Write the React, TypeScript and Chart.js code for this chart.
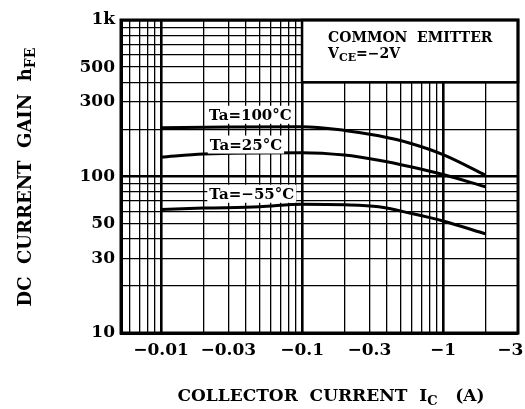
import React, { useEffect, useRef } from "react";
import { Chart, registerables } from "chart.js";
Chart.register(...registerables);

// ---- data (collector current |Ic| in A, DC current gain hFE) ----
const xTickValues = [0.01, 0.03, 0.1, 0.3, 1, 3];
const xTickLabels = ["−0.01", "−0.03", "−0.1", "−0.3", "−1", "−3"];
const yTickValues = [10, 30, 50, 100, 300, 500, 1000];
const yTickLabels = ["10", "30", "50", "100", "300", "500", "1k"];

const ic100 = [0.01, 0.03, 0.1, 0.2, 0.35, 0.6, 1, 2];
const hfe100 = [205, 207, 208, 197, 182, 162, 138, 102];
const ic25 = [0.01, 0.02, 0.1, 0.2, 0.35, 0.6, 1, 2];
const hfe25 = [133, 139, 142, 137, 127, 115, 103, 86];
const icM55 = [0.01, 0.02, 0.05, 0.1, 0.2, 0.35, 0.6, 1, 2];
const hfeM55 = [61.5, 62.8, 64, 66.5, 66, 64, 58, 52, 43];

const seriesLabels = ["Ta=100°C", "Ta=25°C", "Ta=−55°C"];
const labelAnchorIc = [0.043, 0.04, 0.044];
const labelAnchorHfe = [248, 160, 77.6];

const X_MIN = 0.0052;
const X_MAX = 3.4;
const Y_MIN = 10;
const Y_MAX = 1000;

const FAMILY = "'DejaVu Serif', 'Liberation Serif', serif";

function logGrid(min: number, max: number) {
  const out: number[] = [];
  for (let e = -4; e <= 4; e++) {
    for (let m = 1; m <= 9; m++) {
      const v = +(m * Math.pow(10, e)).toPrecision(3);
      if (v >= min * 0.999 && v <= max * 1.001) out.push(v);
    }
  }
  return out;
}

const isDecade = (v: number) =>
  Math.abs(Math.log10(v) - Math.round(Math.log10(v))) < 1e-6;

type Part = { t: string; sub?: boolean };

function richWidth(ctx: CanvasRenderingContext2D, parts: Part[], size: number) {
  let w = 0;
  for (const p of parts) {
    ctx.font = `bold ${p.sub ? Math.round(size * 0.78) : size}px ${FAMILY}`;
    w += ctx.measureText(p.t).width;
  }
  return w;
}

function drawRich(
  ctx: CanvasRenderingContext2D,
  parts: Part[],
  x: number,
  yMid: number,
  size: number,
  align: "left" | "center"
) {
  const total = richWidth(ctx, parts, size);
  let cx = align === "center" ? x - total / 2 : x;
  const base = yMid + size * 0.36;
  ctx.textAlign = "left";
  ctx.textBaseline = "alphabetic";
  for (const p of parts) {
    const s = p.sub ? Math.round(size * 0.78) : size;
    ctx.font = `bold ${s}px ${FAMILY}`;
    ctx.fillText(p.t, cx, p.sub ? base + size * 0.22 : base);
    cx += ctx.measureText(p.t).width;
  }
}

const decor = {
  id: "decor",
  afterDraw(chart: any) {
    const { ctx, chartArea: a, scales } = chart;
    const x = scales.x;
    const y = scales.y;
    ctx.save();
    ctx.fillStyle = "#000";
    ctx.strokeStyle = "#000";

    // condition box (top-right)
    const bx = x.getPixelForValue(0.1);
    const by = y.getPixelForValue(400);
    ctx.fillStyle = "#fff";
    ctx.fillRect(bx, a.top, a.right - bx, by - a.top);
    ctx.lineWidth = 2.5;
    ctx.strokeRect(bx, a.top, a.right - bx, by - a.top);
    ctx.fillStyle = "#000";
    drawRich(ctx, [{ t: "COMMON  EMITTER" }], bx + 26, a.top + 17, 14, "left");
    drawRich(
      ctx,
      [{ t: "V" }, { t: "CE", sub: true }, { t: "=−2V" }],
      bx + 26,
      a.top + 33,
      14,
      "left"
    );

    // curve labels
    for (let i = 0; i < seriesLabels.length; i++) {
      const px = x.getPixelForValue(labelAnchorIc[i]);
      const py = y.getPixelForValue(labelAnchorHfe[i]);
      const size = 15;
      const w = richWidth(ctx, [{ t: seriesLabels[i] }], size);
      ctx.fillStyle = "#fff";
      ctx.fillRect(px - w / 2 - 2, py - 9, w + 4, 18);
      ctx.fillStyle = "#000";
      drawRich(ctx, [{ t: seriesLabels[i] }], px, py, size, "center");
    }

    // frame
    ctx.lineWidth = 3;
    ctx.strokeRect(a.left, a.top, a.right - a.left, a.bottom - a.top);

    // axis titles
    ctx.fillStyle = "#000";
    drawRich(
      ctx,
      [{ t: "COLLECTOR  CURRENT  I" }, { t: "C", sub: true }, { t: "   (A)" }],
      331,
      395,
      17,
      "center"
    );
    ctx.save();
    ctx.translate(25, 177);
    ctx.rotate(-Math.PI / 2);
    drawRich(
      ctx,
      [{ t: "DC  CURRENT  GAIN  h" }, { t: "FE", sub: true }],
      0,
      0,
      18,
      "center"
    );
    ctx.restore();
    ctx.restore();
  },
};

export default function App() {
  const ref = useRef<HTMLCanvasElement>(null);
  useEffect(() => {
    const canvas = ref.current!;
    const mk = (xs: number[], ys: number[]) => xs.map((v, i) => ({ x: v, y: ys[i] }));
    const tickFont = { family: FAMILY, weight: "bold" as const, size: 17 };
    const chart = new Chart(canvas, {
      type: "line",
      data: {
        datasets: [
          { label: seriesLabels[0], data: mk(ic100, hfe100) },
          { label: seriesLabels[1], data: mk(ic25, hfe25) },
          { label: seriesLabels[2], data: mk(icM55, hfeM55) },
        ],
      },
      options: {
        responsive: false,
        animation: false,
        layout: { padding: { left: 0, right: 7, top: 20, bottom: 0 } },
        elements: {
          point: { radius: 0 },
          line: {
            borderColor: "#000",
            borderWidth: 3,
            cubicInterpolationMode: "monotone",
            fill: false,
          },
        },
        plugins: { legend: { display: false }, tooltip: { enabled: false } },
        scales: {
          x: {
            type: "logarithmic",
            position: "bottom",
            min: X_MIN,
            max: X_MAX,
            afterBuildTicks: (s: any) => {
              s.ticks = logGrid(X_MIN, X_MAX).map((v) => ({ value: v }));
            },
            afterFit: (s: any) => {
              s.height = 76;
              s.paddingRight = 0;
              s.paddingLeft = 0;
            },
            ticks: {
              autoSkip: false,
              maxRotation: 0,
              padding: 7,
              color: "#000",
              font: tickFont,
              callback: (v: any) => {
                const i = xTickValues.findIndex((t) => Math.abs(t - v) / t < 1e-6);
                return i >= 0 ? xTickLabels[i] : "";
              },
            },
            grid: {
              drawTicks: false,
              color: (c: any) =>
                c.tick && Math.abs(c.tick.value - 3) < 1e-6 ? "rgba(0,0,0,0)" : "#000",
              lineWidth: (c: any) => (c.tick && isDecade(c.tick.value) ? 2.6 : 1.3),
            },
            border: { display: true, color: "#000", width: 3 },
          },
          y: {
            type: "logarithmic",
            min: Y_MIN,
            max: Y_MAX,
            afterBuildTicks: (s: any) => {
              s.ticks = logGrid(Y_MIN, Y_MAX).map((v) => ({ value: v }));
            },
            afterFit: (s: any) => {
              s.width = 121;
            },
            ticks: {
              autoSkip: false,
              padding: 6,
              color: "#000",
              font: tickFont,
              callback: (v: any) => {
                const i = yTickValues.findIndex((t) => Math.abs(t - v) / t < 1e-6);
                return i >= 0 ? yTickLabels[i] : "";
              },
            },
            grid: {
              drawTicks: false,
              color: "#000",
              lineWidth: (c: any) => (c.tick && isDecade(c.tick.value) ? 2.6 : 1.3),
            },
            border: { display: true, color: "#000", width: 3 },
          },
        },
      },
      plugins: [decor],
    } as any);
    return () => chart.destroy();
  }, []);
  return (
    <div
      style={{
        position: "absolute",
        left: 0,
        top: 0,
        width: 525,
        height: 409,
        background: "#fff",
      }}
    >
      <canvas ref={ref} width={525} height={409} style={{ display: "block" }} />
    </div>
  );
}
